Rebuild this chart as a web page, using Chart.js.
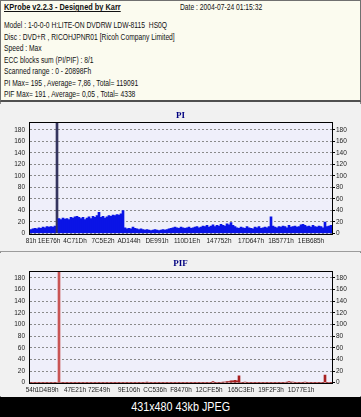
<!DOCTYPE html>
<html><head><meta charset="utf-8">
<script src="https://cdn.jsdelivr.net/npm/chart.js@4.4.1/dist/chart.umd.min.js"></script>
<style>
html,body{margin:0;padding:0;background:#000;width:361px;height:417px;overflow:hidden;font-family:"Liberation Sans",Arial,sans-serif}
#info{position:absolute;left:0;top:0;width:361px;height:102px;box-sizing:border-box;background:#fbfbef;border:1px solid #707070;border-bottom:2px solid #505050}
.ln{position:absolute;left:3px;font-size:8.5px;line-height:10px;white-space:nowrap;transform-origin:0 50%;transform:scaleX(0.79);color:#111}
.ttl{font-weight:bold;text-decoration:underline;transform:scaleX(0.87)}
#charts{position:absolute;left:0;top:102px;width:361px;height:295px;background:#f1f1f1;box-sizing:border-box;border-left:1px solid #8a8a8a;border-right:1px solid #8a8a8a}
#sep{position:absolute;left:0;top:251px;width:361px;height:1px;background:#9c9c9c}
canvas{position:absolute;left:0}
#foot{position:absolute;left:0;top:397px;width:361px;height:20px;background:#000;color:#fff;text-align:center}
#foot span{display:inline-block;font-size:13px;line-height:20px;transform:scaleX(0.83)}
</style></head>
<body>
<div id="info">
<div class="ln ttl" style="top:1.3px">KProbe v2.2.3 - Designed by Karr</div>
<div class="ln" style="top:1.3px;left:179px">Date : 2004-07-24 01:15:32</div>
<div class="ln" style="top:19px">Model : 1-0-0-0 H:LITE-ON DVDRW LDW-8115&nbsp;&nbsp;HS0Q</div>
<div class="ln" style="top:30.5px">Disc : DVD+R , RICOHJPNR01 [Ricoh Company Limited]</div>
<div class="ln" style="top:42.1px">Speed : Max</div>
<div class="ln" style="top:53.6px">ECC blocks sum (PI/PIF) : 8/1</div>
<div class="ln" style="top:65.2px">Scanned range : 0 - 20898Fh</div>
<div class="ln" style="top:76.7px">PI Max= 195 , Average= 7,86 , Total= 119091</div>
<div class="ln" style="top:88.3px">PIF Max= 191 , Average= 0,05 , Total= 4338</div>
</div>
<div id="charts"></div>
<div id="sep"></div>
<canvas id="pi" width="361" height="147" style="top:104px;width:361px;height:147px"></canvas>
<canvas id="pif" width="361" height="143" style="top:253px;width:361px;height:143px"></canvas>
<div id="foot"><span>431x480 43kb JPEG</span></div>
<script>
// ---- data ----
const piTickLabels = ['81h','1EE76h','4C71Dh','7C5E2h','AD144h','DE991h','110D1Eh','147752h','17D647h','1B5771h','1EB685h'];
const piTickSamples = [0, 9, 22, 36, 49, 63, 78, 94, 110, 125, 140];
const pifTickLabels = ['54h','1D4B9h','47E21h','72E49h','9E106h','CC536h','F8470h','12CFE5h','165C3Eh','19F2F3h','1D77E1h'];
const pifTickSamples = [0, 8, 22, 34, 49, 62, 75, 89, 105, 120, 135];
const yTickValues = [0,20,40,60,80,100,120,140,160,180];

const piValues = [
 7,8,9,8,10,9,11,10,12,11,12,11,13,
 195,
 26,24,27,25,26,24,28,27,29,30,28,26,28,24,27,29,26,30,28,31,37,28,30,27,29,31,30,32,31,33,32,34,40,
 10,8,9,8,11,9,8,7,8,7, 6,7,6,5,6,7,6,5,6,7, 6,7,8,9,10,11,10,9,11,10,
 9,10,11,9,10,11,12,10,11,13, 12,14,11,13,15,12,14,13,16,14, 13,17,15,19,14,12,10,9,11,10,
 9,12,10,9,8,11,10,12,9,10, 11,10,12,29,13,11,10,12,11,13, 12,10,14,11,12,13,11,12,15,16,
 14,12,13,11,14,12,11,13,12,10, 20,12,13,14
];
const pifValues = [
 0,0,0,0,0,0,0,0,0,0,
 0,0,0,0,191,0,0,0,0,0,
 0,0,0,0,0,0,0,0,0,0,
 0,0,0,0,0,0,0,0,0,0,
 0,0,0,0,0,0,0,0,0,0,
 0,0,0,0,0,0,0,0,1,0,
 0,0,0,0,0,0,0,0,0,0,
 0,0,0,0,0,0,0,0,0,0,
 0,0,0,0,0,0,0,0,0,0,
 0,2,0,0,0,0,1,1,2,2,
 3,3,4,3,12,0,0,1,0,0,
 0,0,0,0,0,0,0,0,0,0,
 0,0,0,0,0,0,0,0,1,2,
 1,1,0,0,0,0,0,1,0,0,
 0,0,0,0,0,0,0,13,0,0,
 0
];

// ---- drawing ----
const FONT = '"Liberation Sans", Arial, sans-serif';
const framePlugin = {
  id: 'frame',
  beforeDraw(chart) {
    const {ctx, chartArea: a} = chart;
    ctx.save();
    ctx.fillStyle = '#f1f1f1';
    ctx.fillRect(0, 0, chart.width, chart.height);
    ctx.fillStyle = '#efeffa';
    ctx.fillRect(a.left, a.top, a.right - a.left, a.bottom - a.top);
    ctx.restore();
  },
  afterDatasetsDraw(chart) {
    const {ctx, chartArea: a} = chart;
    ctx.save();
    ctx.strokeStyle = '#000';
    ctx.lineWidth = 1;
    ctx.strokeRect(Math.round(a.left) - 0.5, Math.round(a.top) - 0.5,
                   Math.round(a.right - a.left) + 1, Math.round(a.bottom - a.top) + 1);
    ctx.restore();
  }
};

function makeChart(id, title, values, tickSamples, tickLabels, yMax, baseColor, peakColor, titlePad, xHeight, xPad) {
  const peak = values.indexOf(Math.max(...values));
  const colors = values.map((v, i) => i === peak ? peakColor : baseColor);
  const yTicksCfg = (side) => ({
    type: 'linear', position: side, min: 0, max: yMax,
    afterBuildTicks: s => { s.ticks = yTickValues.map(v => ({value: v})); },
    afterFit: s => { s.width = side === 'left' ? 30 : 29; },
    grid: side === 'left'
      ? {display: true, drawTicks: false, color: '#8a8a8a', lineWidth: 1}
      : {display: true, drawOnChartArea: false, drawTicks: true, tickLength: 3, color: '#000'},
    border: side === 'left' ? {display: false, dash: [2, 2]} : {display: false},
    ticks: {font: {family: FONT, size: 6.5}, color: '#222', padding: side === 'left' ? 5 : 1}
  });
  return new Chart(document.getElementById(id), {
    type: 'bar',
    data: {
      datasets: [{
        data: values.map((v, i) => ({x: i, y: v})),
        backgroundColor: colors,
        borderWidth: 0,
        barPercentage: 1,
        categoryPercentage: 1
      }]
    },
    options: {
      responsive: false, animation: false, devicePixelRatio: 1,
      layout: {padding: 0},
      plugins: {
        legend: {display: false}, tooltip: {enabled: false},
        title: {display: true, text: title, color: '#000080',
                font: {family: '"Liberation Serif", serif', size: 9, weight: 'bold', lineHeight: 1},
                padding: titlePad}
      },
      scales: {
        x: {
          type: 'linear', min: -0.5, max: values.length - 0.5, offset: false,
          afterBuildTicks: s => { s.ticks = tickSamples.map(v => ({value: v})); },
          afterFit: s => { s.height = xHeight; },
          grid: {display: false, drawTicks: false, offset: false},
          border: {display: false},
          ticks: {autoSkip: false, maxRotation: 0, minRotation: 0, padding: xPad,
                  font: {family: FONT, size: 6.4}, color: '#222',
                  callback: (v, i) => tickLabels[i]}
        },
        y: yTicksCfg('left'),
        y2: yTicksCfg('right')
      }
    },
    plugins: [framePlugin]
  });
}

makeChart('pi', 'PI', piValues, piTickSamples, piTickLabels, 192, '#0a14e6', '#34345e', {top: 7.5, bottom: 2.5}, 17.5, 4.3);
makeChart('pif', 'PIF', pifValues, pifTickSamples, pifTickLabels, 191, '#a82020', '#c85454', {top: 6.5, bottom: 3}, 13.3, 3.4);
</script>
</body></html>
